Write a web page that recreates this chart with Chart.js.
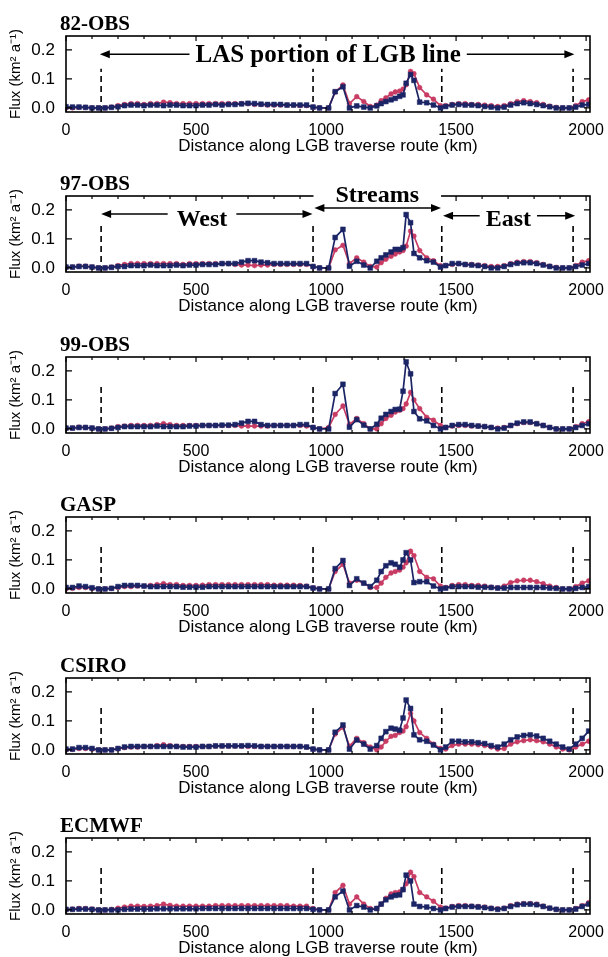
<!DOCTYPE html>
<html>
<head>
<meta charset="utf-8">
<script src="https://cdn.jsdelivr.net/npm/chart.js@4.4.1/dist/chart.umd.min.js"></script>
<style>
  body { margin: 0; background: #fff; }
  .panel { position: absolute; left: 0; width: 608px; height: 160px; }
</style>
</head>
<body>
<script>
// distance of each sample along the traverse (km)
const distKm = [0,25,50,75,100,125,150,175,200,225,250,275,300,325,350,375,400,425,450,475,
  500,525,550,575,600,625,650,675,700,725,750,775,800,825,850,875,900,925,950,975,
  1010,1035,1065,1090,1118,1145,1170,1195,1212,1230,1250,1266,1283,1296,1308,1325,1338,1360,1387,1413,1440,
  1460,1485,1510,1535,1560,1585,1610,1635,1660,1685,1710,1735,1760,1785,1810,1835,1860,1885,1910,1935,1960,1985,2010];

// flux, km2 a-1 (navy = squares, red = dots)
const obs82Navy = [
  0.004,0.003,0.003,0.002,0.0,0.0,0.0,0.002,0.004,0.008,
  0.01,0.01,0.008,0.01,0.01,0.008,0.01,0.01,0.008,0.008,
  0.008,0.01,0.01,0.012,0.01,0.012,0.012,0.014,0.016,0.015,
  0.013,0.012,0.012,0.012,0.01,0.01,0.01,0.01,0.003,0.0,
  0.0,0.056,0.073,0.0,0.007,0.003,0.0,0.007,0.015,0.022,0.028,0.033,0.04,0.045,0.085,0.115,0.095,0.02,0.018,0.01,0.0,
  0.005,0.01,0.012,0.01,0.01,0.008,0.005,0.003,0.0,0.003,
  0.01,0.015,0.018,0.015,0.012,0.008,0.004,0.0,0.0,0.0,
  0.003,0.01,0.012];
const obs82Red = [
  0.0,0.0,0.002,0.002,0.0,0.0,0.0,0.003,0.008,0.012,
  0.015,0.015,0.012,0.015,0.015,0.02,0.018,0.015,0.015,0.015,
  0.015,0.015,0.015,0.015,0.015,0.015,0.015,0.015,0.015,0.012,
  0.012,0.01,0.01,0.01,0.01,0.01,0.008,0.008,0.003,0.0,
  0.0,0.055,0.079,0.015,0.039,0.022,0.005,0.01,0.025,0.035,0.048,0.055,0.058,0.065,0.08,0.126,0.118,0.07,0.045,0.03,0.008,
  0.008,0.012,0.015,0.015,0.012,0.012,0.01,0.008,0.005,0.008,
  0.015,0.022,0.025,0.022,0.018,0.012,0.006,0.002,0.0,0.0,
  0.008,0.022,0.028];

const obs97Navy = [
  0.003,0.003,0.005,0.005,0.003,0.0,0.0,0.002,0.005,0.005,
  0.008,0.008,0.008,0.01,0.008,0.008,0.008,0.01,0.008,0.01,
  0.01,0.012,0.012,0.012,0.015,0.015,0.015,0.02,0.025,0.025,
  0.02,0.018,0.015,0.015,0.015,0.015,0.015,0.015,0.005,0.0,
  0.0,0.105,0.133,0.006,0.023,0.01,0.0,0.023,0.035,0.045,0.055,0.064,0.064,0.07,0.184,0.156,0.05,0.035,0.025,0.02,0.003,
  0.008,0.015,0.015,0.012,0.01,0.008,0.005,0.0,0.0,0.005,
  0.012,0.016,0.018,0.018,0.015,0.01,0.005,0.0,0.0,0.0,
  0.005,0.01,0.015];
const obs97Red = [
  0.002,0.003,0.006,0.006,0.003,0.0,0.0,0.003,0.008,0.012,
  0.015,0.015,0.015,0.015,0.015,0.015,0.015,0.015,0.012,0.015,
  0.015,0.015,0.015,0.015,0.015,0.015,0.012,0.01,0.01,0.008,
  0.01,0.01,0.012,0.012,0.012,0.012,0.012,0.012,0.005,0.0,
  0.0,0.062,0.078,0.015,0.035,0.02,0.005,0.003,0.018,0.03,0.04,0.048,0.055,0.06,0.075,0.127,0.11,0.06,0.035,0.025,0.008,
  0.008,0.012,0.015,0.012,0.012,0.01,0.008,0.005,0.005,0.008,
  0.015,0.02,0.022,0.022,0.018,0.012,0.006,0.002,0.0,0.0,
  0.008,0.02,0.025];

const obs99Navy = [
  0.003,0.003,0.005,0.005,0.003,0.0,0.0,0.002,0.005,0.008,
  0.008,0.008,0.008,0.008,0.01,0.008,0.008,0.008,0.008,0.01,
  0.01,0.012,0.012,0.012,0.013,0.013,0.015,0.02,0.026,0.026,
  0.015,0.012,0.012,0.012,0.012,0.012,0.015,0.015,0.005,0.0,
  0.0,0.122,0.154,0.006,0.032,0.013,0.0,0.016,0.037,0.05,0.06,0.067,0.068,0.13,0.231,0.19,0.06,0.035,0.028,0.012,0.0,
  0.005,0.012,0.015,0.015,0.012,0.01,0.008,0.005,0.0,0.003,
  0.012,0.02,0.024,0.024,0.018,0.012,0.005,0.0,0.0,0.0,
  0.005,0.012,0.018];
const obs99Red = [
  0.002,0.003,0.006,0.005,0.003,0.0,0.0,0.003,0.008,0.01,
  0.012,0.012,0.012,0.012,0.015,0.018,0.015,0.012,0.012,0.012,
  0.012,0.012,0.012,0.012,0.012,0.012,0.012,0.01,0.01,0.01,
  0.01,0.01,0.012,0.012,0.012,0.012,0.012,0.01,0.005,0.0,
  0.005,0.05,0.079,0.016,0.036,0.018,0.0,0.0,0.018,0.036,0.047,0.058,0.064,0.07,0.086,0.126,0.1,0.07,0.04,0.03,0.012,
  0.005,0.01,0.012,0.012,0.01,0.01,0.008,0.005,0.003,0.005,
  0.012,0.018,0.022,0.022,0.018,0.012,0.005,0.0,0.0,0.0,
  0.008,0.018,0.025];

const gaspNavy = [
  0.005,0.005,0.01,0.008,0.004,0.0,0.0,0.002,0.008,0.012,
  0.012,0.012,0.01,0.008,0.008,0.008,0.008,0.008,0.006,0.006,
  0.006,0.006,0.008,0.008,0.008,0.008,0.008,0.008,0.008,0.008,
  0.008,0.008,0.008,0.008,0.008,0.008,0.008,0.008,0.003,0.0,
  0.0,0.07,0.098,0.012,0.035,0.02,0.008,0.03,0.06,0.08,0.09,0.085,0.075,0.1,0.125,0.1,0.022,0.025,0.025,0.01,0.0,
  0.003,0.008,0.008,0.008,0.008,0.006,0.006,0.005,0.003,0.003,
  0.005,0.005,0.005,0.005,0.005,0.005,0.003,0.002,0.0,0.0,
  0.002,0.005,0.008];
const gaspRed = [
  0.0,0.002,0.005,0.005,0.002,0.0,0.0,0.002,0.005,0.008,
  0.008,0.01,0.01,0.012,0.015,0.018,0.015,0.015,0.012,0.012,
  0.012,0.013,0.015,0.015,0.015,0.015,0.015,0.015,0.015,0.015,
  0.015,0.015,0.013,0.013,0.013,0.013,0.012,0.01,0.004,0.0,
  0.0,0.06,0.085,0.02,0.03,0.02,0.005,0.005,0.02,0.04,0.055,0.06,0.065,0.075,0.09,0.13,0.115,0.06,0.04,0.035,0.01,
  0.005,0.012,0.015,0.015,0.012,0.012,0.01,0.006,0.004,0.01,
  0.022,0.028,0.03,0.03,0.025,0.018,0.01,0.005,0.0,0.0,
  0.008,0.02,0.028];

const csiroNavy = [
  0.003,0.003,0.008,0.008,0.005,0.0,0.0,0.0,0.005,0.01,
  0.012,0.012,0.012,0.012,0.012,0.012,0.012,0.012,0.01,0.01,
  0.01,0.012,0.012,0.014,0.014,0.014,0.014,0.014,0.015,0.014,
  0.012,0.012,0.012,0.012,0.012,0.012,0.012,0.01,0.003,0.0,
  0.0,0.061,0.086,0.003,0.034,0.02,0.003,0.015,0.04,0.063,0.075,0.072,0.068,0.11,0.172,0.143,0.052,0.035,0.03,0.017,0.0,
  0.01,0.03,0.03,0.028,0.028,0.025,0.022,0.015,0.01,0.02,
  0.035,0.045,0.05,0.052,0.048,0.04,0.03,0.02,0.01,0.003,
  0.02,0.04,0.065];
const csiroRed = [
  0.0,0.002,0.005,0.005,0.003,0.0,0.0,0.0,0.004,0.008,
  0.01,0.01,0.012,0.012,0.015,0.018,0.015,0.012,0.012,0.012,
  0.012,0.012,0.012,0.013,0.013,0.013,0.013,0.013,0.012,0.012,
  0.012,0.012,0.012,0.012,0.012,0.012,0.012,0.01,0.003,0.0,
  0.0,0.055,0.078,0.013,0.04,0.025,0.01,0.0,0.01,0.03,0.047,0.05,0.06,0.065,0.08,0.126,0.1,0.06,0.04,0.02,0.005,
  0.003,0.015,0.02,0.02,0.02,0.018,0.015,0.01,0.003,0.005,
  0.02,0.028,0.032,0.035,0.032,0.028,0.02,0.01,0.003,0.0,
  0.01,0.02,0.03];

const ecmwfNavy = [
  0.002,0.002,0.003,0.003,0.002,0.0,0.0,0.0,0.0,0.002,
  0.003,0.003,0.003,0.003,0.004,0.004,0.004,0.004,0.004,0.004,
  0.004,0.005,0.005,0.005,0.005,0.005,0.005,0.005,0.005,0.005,
  0.005,0.005,0.005,0.005,0.005,0.005,0.005,0.005,0.002,0.0,
  0.0,0.045,0.065,0.0,0.015,0.01,0.0,0.005,0.02,0.035,0.045,0.05,0.052,0.07,0.12,0.1,0.02,0.012,0.01,0.005,0.0,
  0.005,0.01,0.012,0.012,0.012,0.01,0.008,0.005,0.002,0.005,
  0.012,0.018,0.02,0.02,0.018,0.012,0.006,0.002,0.0,0.0,
  0.003,0.012,0.02];
const ecmwfRed = [
  0.0,0.003,0.005,0.005,0.003,0.0,0.0,0.002,0.006,0.01,
  0.013,0.013,0.012,0.013,0.015,0.02,0.016,0.013,0.013,0.013,
  0.013,0.013,0.013,0.015,0.015,0.015,0.015,0.015,0.015,0.015,
  0.015,0.015,0.015,0.015,0.015,0.013,0.013,0.013,0.005,0.0,
  0.0,0.06,0.085,0.02,0.045,0.02,0.005,0.005,0.02,0.04,0.055,0.06,0.062,0.07,0.09,0.13,0.115,0.06,0.045,0.03,0.01,
  0.006,0.012,0.015,0.015,0.013,0.012,0.01,0.006,0.004,0.006,
  0.015,0.02,0.022,0.022,0.02,0.013,0.006,0.002,0.0,0.0,
  0.005,0.015,0.025];

const panelNames = ['82-OBS', '97-OBS', '99-OBS', 'GASP', 'CSIRO', 'ECMWF'];
const navySeries = [obs82Navy, obs97Navy, obs99Navy, gaspNavy, csiroNavy, ecmwfNavy];
const redSeries = [obs82Red, obs97Red, obs99Red, gaspRed, csiroRed, ecmwfRed];
const xTickValues = [0, 500, 1000, 1500, 2000];
const yTickValues = [0, 0.1, 0.2];
const dashKm = [135, 950, 1445, 1950];
const dashTop = [0.135, 0.15, 0.15, 0.15, 0.15, 0.15];

const Y_MIN = -0.014, Y_MAX = 0.248;
const NAVY = '#1b2566';
const RED = '#c83b63';

// arrow labels, placed in data units
const notes = [
  [{text: 'LAS portion of LGB line', size: 25, at: 1008, base: 0.158, arrowY: 0.185, from: 130, to: 1955, padX: 6, desc: 6}],
  [
    {text: 'West', size: 24, at: 523, base: 0.146, arrowY: 0.186, from: 135, to: 948, padX: 9, desc: 3},
    {text: 'Streams', size: 24, at: 1197, base: 0.228, arrowY: 0.207, from: 955, to: 1442, padX: 22, desc: 2},
    {text: 'East', size: 24, at: 1701, base: 0.146, arrowY: 0.18, from: 1450, to: 1958, padX: 6, desc: 3}
  ],
  [], [], [], []
];

function arrowHead(ctx, x, y, dir) {
  ctx.beginPath();
  ctx.moveTo(x, y);
  ctx.lineTo(x - dir * 10, y - 4);
  ctx.lineTo(x - dir * 10, y + 4);
  ctx.closePath();
  ctx.fill();
}

const decoPlugin = {
  id: 'deco',
  afterDraw(chart, args, opts) {
    const ctx = chart.ctx;
    const a = chart.chartArea;
    const xs = chart.scales.x, ys = chart.scales.y;
    ctx.save();
    ctx.strokeStyle = '#000';
    ctx.fillStyle = '#000';
    ctx.lineWidth = 1.6;
    ctx.strokeRect(a.left, a.top, a.right - a.left, a.bottom - a.top);

    // inward ticks
    ctx.lineWidth = 1.2;
    ctx.beginPath();
    for (let km = 0; km <= 2000; km += 100) {
      const x = xs.getPixelForValue(km);
      const len = km % 500 === 0 ? 5 : 3;
      ctx.moveTo(x, a.bottom); ctx.lineTo(x, a.bottom - len);
      ctx.moveTo(x, a.top); ctx.lineTo(x, a.top + len);
    }
    yTickValues.forEach(v => {
      const y = ys.getPixelForValue(v);
      ctx.moveTo(a.left, y); ctx.lineTo(a.left + 6, y);
      ctx.moveTo(a.right, y); ctx.lineTo(a.right - 6, y);
    });
    ctx.stroke();

    // panel name
    ctx.font = 'bold 21px "Liberation Serif", "Times New Roman", serif';
    ctx.textAlign = 'left';
    ctx.textBaseline = 'alphabetic';
    ctx.fillText(opts.title, a.left - 6, a.top - 6);

    // arrows and labels
    (opts.notes || []).forEach(n => {
      const y = ys.getPixelForValue(n.arrowY);
      const x1 = xs.getPixelForValue(n.from), x2 = xs.getPixelForValue(n.to);
      ctx.lineWidth = 1.5;
      ctx.beginPath(); ctx.moveTo(x1 + 4, y); ctx.lineTo(x2 - 4, y); ctx.stroke();
      arrowHead(ctx, x1, y, -1);
      arrowHead(ctx, x2, y, 1);
      ctx.font = 'bold ' + n.size + 'px "Liberation Serif", "Times New Roman", serif';
      const w = ctx.measureText(n.text).width;
      const cx = xs.getPixelForValue(n.at);
      const by = ys.getPixelForValue(n.base);
      ctx.fillStyle = '#fff';
      ctx.fillRect(cx - w / 2 - n.padX, by - n.size * 0.72 - 3, w + 2 * n.padX, n.size * 0.72 + 3 + n.desc);
      ctx.fillStyle = '#000';
      ctx.textAlign = 'center';
      ctx.fillText(n.text, cx, by);
    });
    ctx.restore();
  }
};

panelNames.forEach((name, i) => {
  const div = document.createElement('div');
  div.className = 'panel';
  div.style.top = Math.round(i * 160.4) + 'px';
  const cv = document.createElement('canvas');
  cv.width = 608; cv.height = 160;
  cv.style.width = '608px'; cv.style.height = '160px';
  div.appendChild(cv);
  document.body.appendChild(div);

  const navy = navySeries[i], red = redSeries[i];
  const datasets = [
    {
      data: distKm.map((x, j) => ({x: x, y: navy[j]})),
      borderColor: NAVY, backgroundColor: NAVY, borderWidth: 1.7,
      pointStyle: 'rect', pointRadius: 3.4, pointBorderWidth: 0.5
    },
    {
      data: distKm.map((x, j) => ({x: x, y: red[j]})),
      borderColor: RED, backgroundColor: RED, borderWidth: 1.7,
      pointStyle: 'circle', pointRadius: 2.4, pointBorderWidth: 0.5
    }
  ];
  dashKm.forEach(km => {
    datasets.push({
      data: [{x: km, y: Y_MIN}, {x: km, y: dashTop[i]}],
      borderColor: '#000', borderWidth: 1.6, borderDash: [6, 4], pointRadius: 0
    });
  });

  new Chart(cv.getContext('2d'), {
    type: 'line',
    data: {datasets: datasets},
    options: {
      responsive: false,
      animation: false,
      layout: {padding: {top: 36, left: 0, right: 18, bottom: 0}},
      plugins: {
        legend: {display: false},
        tooltip: {enabled: false},
        deco: {title: name, notes: notes[i]}
      },
      scales: {
        x: {
          type: 'linear', min: 0, max: 2015,
          grid: {display: false, drawTicks: false},
          border: {display: false},
          afterBuildTicks: s => { s.ticks = xTickValues.map(v => ({value: v})); },
          afterFit: s => { s.height = 48; s.paddingLeft = 0; s.paddingRight = 0; },
          ticks: {
            autoSkip: false, maxRotation: 0, padding: 9, color: '#000',
            font: {family: '"Liberation Sans", Arial, sans-serif', size: 16},
            callback: v => String(v)
          },
          title: {
            display: true, text: 'Distance along LGB traverse route (km)', color: '#000',
            font: {family: '"Liberation Sans", Arial, sans-serif', size: 17},
            padding: {top: 0, bottom: 3}
          }
        },
        y: {
          min: Y_MIN, max: Y_MAX,
          grid: {display: false, drawTicks: false},
          border: {display: false},
          afterBuildTicks: s => { s.ticks = yTickValues.map(v => ({value: v})); },
          afterFit: s => { s.width = 66; s.paddingTop = 0; s.paddingBottom = 0; },
          ticks: {
            padding: 11, color: '#000',
            font: {family: '"Liberation Sans", Arial, sans-serif', size: 17},
            callback: v => v.toFixed(1)
          },
          title: {
            display: true, text: 'Flux (km² a⁻¹)', color: '#000',
            font: {family: '"Liberation Sans", Arial, sans-serif', size: 15},
            padding: {top: 7, bottom: 0}
          }
        }
      }
    },
    plugins: [decoPlugin]
  });
});
</script>
</body>
</html>
